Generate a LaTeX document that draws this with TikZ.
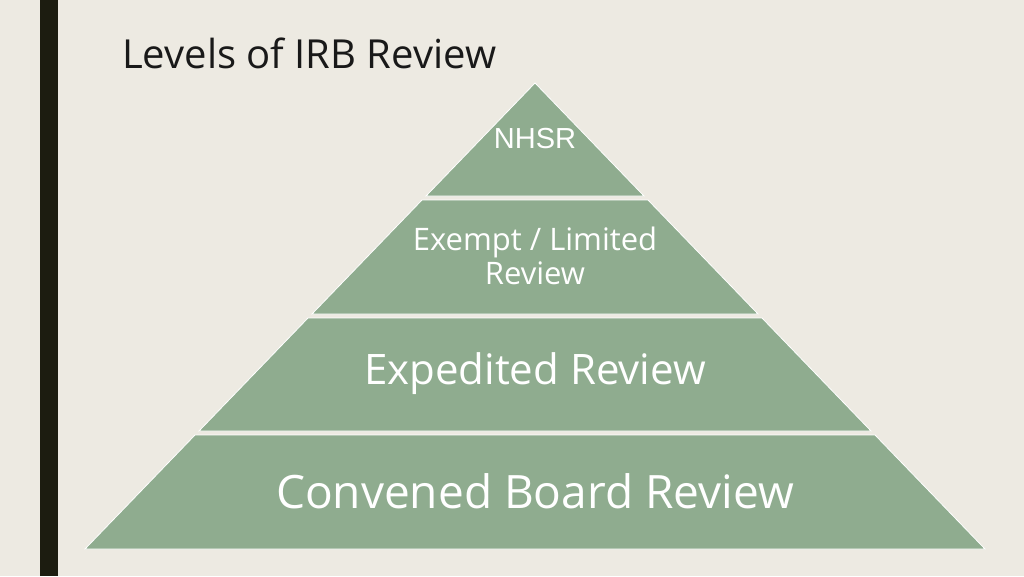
\documentclass[tikz,border=0pt]{standalone}
\usepackage{fontspec}
\setmainfont{Open Sans}
\newfontfamily\arialf{Liberation Sans}
\definecolor{bg}{HTML}{EDEAE2}
\definecolor{lay}{HTML}{8FAC8F}
\definecolor{bar}{HTML}{1C1C10}
\begin{document}
\begin{tikzpicture}[x=1pt,y=-1pt,
  layer/.style={fill=lay,draw=white,line width=0.8pt},
  lab/.style={text=white,align=center,inner sep=0pt}]
\fill[bg] (0,0) rectangle (1024,576);
\useasboundingbox (0,0) rectangle (1024,576);
\fill[bar] (40,0) rectangle (58,576);
\node[anchor=west,inner sep=0pt,font=\fontsize{40}{46}\selectfont,text=black!90] (title) at (122,53) {Levels of IRB Review};
\draw[layer] (535,83) -- (644,196) -- (426,196) -- cycle;
\draw[layer] (422,200) -- (648,200) -- (758,314) -- (312,314) -- cycle;
\draw[layer] (308,318) -- (762,318) -- (871,431) -- (199,431) -- cycle;
\draw[layer] (195,435) -- (875,435) -- (985,549) -- (85,549) -- cycle;
\node[lab,font=\arialf\fontsize{29}{33}\selectfont] (n1) at (535,139) {NHSR};
\node[lab,font=\fontsize{31}{34}\selectfont] (n2) at (535,256) {Exempt / Limited\\Review};
\node[lab,font=\fontsize{42}{48}\selectfont] (n3) at (535,374) {Expedited Review};
\node[lab,font=\fontsize{46}{52}\selectfont] (n4) at (535,491) {Convened Board Review};
\end{tikzpicture}
\end{document}
